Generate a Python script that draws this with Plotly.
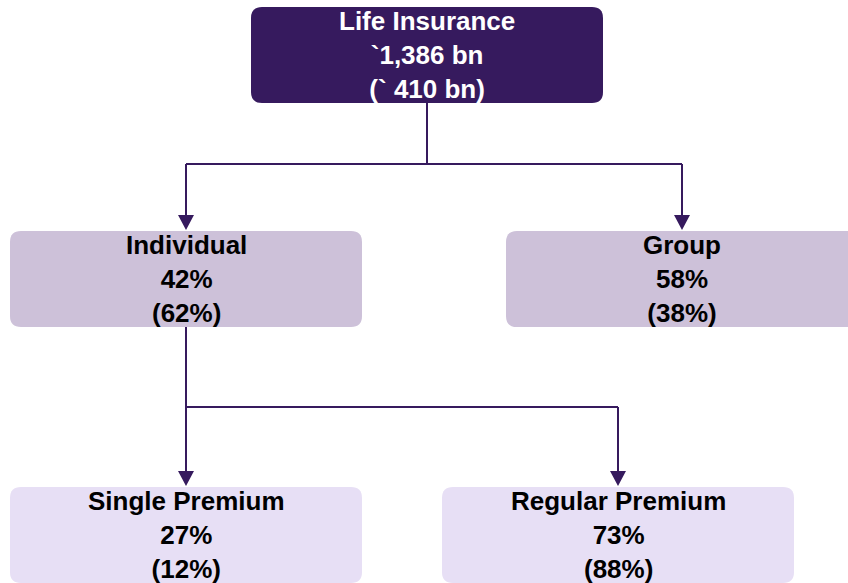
import plotly.graph_objects as go

# --- node text ---
node_titles = ["Life Insurance", "Individual", "Group", "Single Premium", "Regular Premium"]
node_values = ["`1,386 bn", "42%", "58%", "27%", "73%"]
node_previous = ["(` 410 bn)", "(62%)", "(38%)", "(12%)", "(88%)"]
node_parent = [None, 0, 0, 1, 1]

# --- layout of the tree (pixels, y grows downward) ---
BOX_W, BOX_H, RADIUS = 352, 96, 11
box_left = [251, 10, 506, 10, 442]
box_top = [7, 231, 231, 487, 487]
elbow_y = {0: 164, 1: 407}

DARK = "#361a5e"
fills = [DARK, "#cdc1d9", "#cdc1d9", "#e7dff5", "#e7dff5"]
text_colors = ["white", "black", "black", "black", "black"]
FONT = "Arial, Liberation Sans, sans-serif"
PAGE_W, PAGE_H = 848, 583


def rounded_rect(x0, y0, x1, y1, r):
    return (
        f"M{x0 + r},{y0} L{x1 - r},{y0} Q{x1},{y0} {x1},{y0 + r} "
        f"L{x1},{y1 - r} Q{x1},{y1} {x1 - r},{y1} L{x0 + r},{y1} "
        f"Q{x0},{y1} {x0},{y1 - r} L{x0},{y0 + r} Q{x0},{y0} {x0 + r},{y0} Z"
    )


def centre_x(i):
    return box_left[i] + BOX_W / 2


shapes = []
annotations = []

for i, title in enumerate(node_titles):
    x0, y0 = box_left[i], box_top[i]
    shapes.append(dict(
        type="path", xref="x", yref="y",
        path=rounded_rect(x0, y0, x0 + BOX_W, y0 + BOX_H, RADIUS),
        fillcolor=fills[i], line=dict(width=0), layer="below",
    ))
    annotations.append(dict(
        x=centre_x(i), y=y0 + BOX_H / 2, xref="x", yref="y",
        text=f"<b>{title}<br>{node_values[i]}<br>{node_previous[i]}</b>",
        showarrow=False, align="center",
        font=dict(family=FONT, size=26, color=text_colors[i]),
    ))

# --- connectors: trunk, bar and arrowed drops ---
line_x, line_y = [], []
for parent in sorted(set(p for p in node_parent if p is not None)):
    kids = [k for k, p in enumerate(node_parent) if p == parent]
    px_ = centre_x(parent)
    ey = elbow_y[parent]
    line_x += [px_, px_, None]
    line_y += [box_top[parent] + BOX_H, ey, None]
    xs = [centre_x(k) for k in kids]
    line_x += [min(xs + [px_]), max(xs + [px_]), None]
    line_y += [ey, ey, None]
    for k in kids:
        tip = box_top[k] - 1
        line_x += [centre_x(k), centre_x(k), None]
        line_y += [ey, tip - 12, None]
        cx = centre_x(k)
        shapes.append(dict(
            type="path", xref="x", yref="y",
            path=f"M{cx - 8},{tip - 15} L{cx + 8},{tip - 15} L{cx},{tip} Z",
            fillcolor=DARK, line=dict(width=0),
        ))

fig = go.Figure(go.Scatter(
    x=line_x, y=line_y, mode="lines",
    line=dict(color=DARK, width=2), hoverinfo="skip", showlegend=False,
))

fig.update_layout(
    width=PAGE_W, height=PAGE_H,
    margin=dict(l=0, r=0, t=0, b=0),
    paper_bgcolor="white", plot_bgcolor="white",
    shapes=shapes, annotations=annotations,
    xaxis=dict(range=[0, PAGE_W], visible=False, fixedrange=True),
    yaxis=dict(range=[PAGE_H, 0], visible=False, fixedrange=True),
)

# drop the default body margin so the figure sits flush in the window
fig.write_html(
    "out.html",
    config={"displayModeBar": False},
    post_script="document.body.style.margin='0';document.body.style.overflow='hidden';",
)
